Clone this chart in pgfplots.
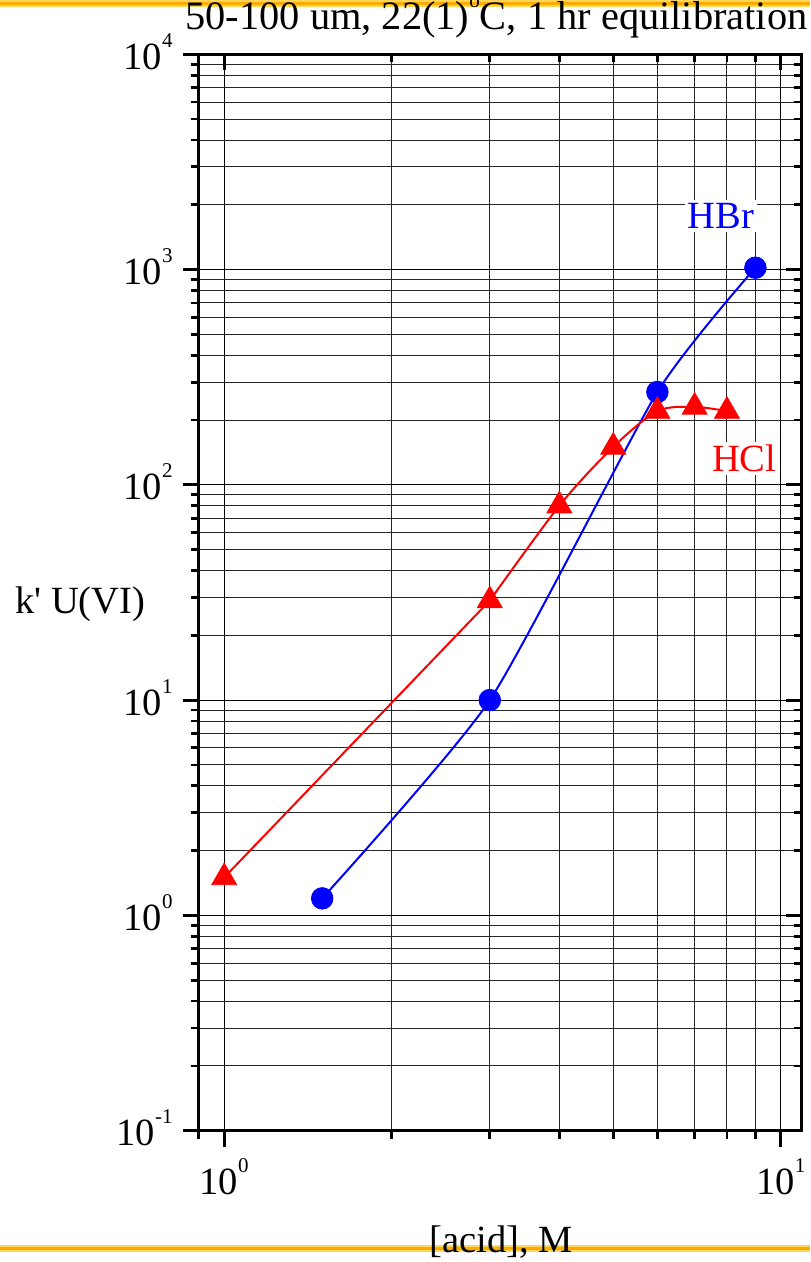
\documentclass[border=0pt]{standalone}
\usepackage{fontspec}
\setmainfont{Liberation Serif}
\newfontfamily\rawserif{Liberation Serif}
\usepackage{pgfplots}
\pgfplotsset{compat=1.18}
\newcommand{\sups}[1]{\raisebox{11pt}{\fontsize{10.5}{12}\selectfont #1}}
\definecolor{hbr}{rgb}{0,0,1}
\definecolor{hcl}{rgb}{1,0,0}
\definecolor{orgA}{RGB}{255,214,90}
\definecolor{orgB}{RGB}{250,172,0}
\begin{document}
\begin{tikzpicture}
\useasboundingbox (-99.35pt,-65.65pt) rectangle (305.65pt,565.35pt);
\draw[orgA, line width=3.6pt] (-99.35pt,563.6pt) -- (305.65pt,563.6pt);
\draw[orgB, line width=1.6pt] (-99.35pt,563.6pt) -- (305.65pt,563.6pt);
\draw[orgA, line width=3.6pt] (-99.35pt,-58.8pt) -- (305.65pt,-58.8pt);
\draw[orgB, line width=1.6pt] (-99.35pt,-58.8pt) -- (305.65pt,-58.8pt);
\begin{axis}[
  at={(0pt,0pt)}, anchor=south west,
  scale only axis, width=301.5pt, height=538.2pt,
  xmode=log, ymode=log, clip=false,
  xmin=0.9, xmax=10.9, ymin=0.1, ymax=10000,
  xtick={1,10},
  minor xtick={0.9,2,3,4,5,6,7,8,9},
  ytick={0.1,1,10,100,1000,10000},
  minor ytick={0.2,0.3,0.4,0.5,0.6,0.7,0.8,0.9,2,3,4,5,6,7,8,9,20,30,40,50,60,70,80,90,200,300,400,500,600,700,800,900,2000,3000,4000,5000,6000,7000,8000,9000},
  major tick length=8pt, minor tick length=4pt,
  tick style={black, line width=1.4pt},
  axis line style={black, line width=1.6pt},
  xtick pos=left, ytick pos=left, tick align=outside,
  grid=both,
  major grid style={black, line width=0.5pt},
  minor grid style={black!85, line width=0.45pt},
  xticklabels={}, yticklabels={},
  title={50-100 um, 22(1)\sups{o}C, 1 hr equilibration},
  title style={at={(axis description cs:0.5,1)}, anchor=base, inner sep=0pt, yshift=6.15pt, xshift=-1.85pt, font=\fontsize{20.2}{24}\selectfont},
  xlabel={[acid], M},
  xlabel style={at={(axis description cs:0.5,0)}, anchor=base, inner sep=0pt, yshift=-61.1pt, xshift=0.65pt, font=\fontsize{19.25}{23}\selectfont},
  ylabel={{\rawserif k'} U(VI)},
  ylabel style={at={(axis description cs:0,0)}, rotate=-90, anchor=base east, inner sep=0pt, xshift=-26.5pt, yshift=258.7pt, font=\fontsize{19.25}{23}\selectfont},
]
% HBr curve and points
\addplot[hbr, line width=1pt, smooth, tension=0.35, no marks]
  coordinates {(1.5,1.2) (3,10) (6,270) (9,1020)};
\addplot[hbr, only marks, mark=*, mark size=5.4pt, mark options={solid, fill=hbr, draw=hbr}]
  coordinates {(1.5,1.2) (3,10) (6,270) (9,1020)};
% HCl curve and points
\addplot[hcl, line width=1pt, no marks]
  coordinates {(1,1.5) (3,29)};
\addplot[hcl, line width=1pt, smooth, tension=0.5, no marks]
  coordinates {(3,29) (4,80) (5,150) (6,220) (7,230) (8,220)};
\addplot[hcl, only marks, mark=triangle*, mark size=7.2pt, mark options={solid, fill=hcl, draw=hcl}]
  coordinates {(1,1.5) (3,29) (4,80) (5,150) (6,220) (7,230) (8,220)};
\node[anchor=base, text=hbr, fill=white, inner sep=1.5pt, font=\fontsize{19.25}{23}\selectfont] at (axis cs:7.8,1550) {HBr};
\node[anchor=base, text=hcl, fill=white, inner sep=1.5pt, font=\fontsize{19.25}{23}\selectfont] at (axis cs:8.59,115) {HCl};
% tick labels
\node[anchor=base, inner sep=0pt, yshift=-32pt, font=\fontsize{19.25}{23}\selectfont] at (axis cs:1,0.1) {10\sups{0}};
\node[anchor=base, inner sep=0pt, yshift=-32pt, font=\fontsize{19.25}{23}\selectfont] at (axis cs:10,0.1) {10\sups{1}};
\node[anchor=base east, inner sep=0pt, xshift=-12.85pt, yshift=-7.5pt, font=\fontsize{19.25}{23}\selectfont] at (axis cs:0.9,0.1) {10\sups{-1}};
\node[anchor=base east, inner sep=0pt, xshift=-12.85pt, yshift=-7.5pt, font=\fontsize{19.25}{23}\selectfont] at (axis cs:0.9,1) {10\sups{0}};
\node[anchor=base east, inner sep=0pt, xshift=-12.85pt, yshift=-7.5pt, font=\fontsize{19.25}{23}\selectfont] at (axis cs:0.9,10) {10\sups{1}};
\node[anchor=base east, inner sep=0pt, xshift=-12.85pt, yshift=-7.5pt, font=\fontsize{19.25}{23}\selectfont] at (axis cs:0.9,100) {10\sups{2}};
\node[anchor=base east, inner sep=0pt, xshift=-12.85pt, yshift=-7.5pt, font=\fontsize{19.25}{23}\selectfont] at (axis cs:0.9,1000) {10\sups{3}};
\node[anchor=base east, inner sep=0pt, xshift=-12.85pt, yshift=-7.5pt, font=\fontsize{19.25}{23}\selectfont] at (axis cs:0.9,10000) {10\sups{4}};
\end{axis}
\begin{axis}[
  at={(0pt,0pt)}, anchor=south west,
  scale only axis, width=301.5pt, height=538.2pt,
  xmode=log, ymode=log,
  xmin=0.9, xmax=10.9, ymin=0.1, ymax=10000,
  xtick={1,10},
  minor xtick={0.9,2,3,4,5,6,7,8,9},
  ytick={0.1,1,10,100,1000,10000},
  minor ytick={0.2,0.3,0.4,0.5,0.6,0.7,0.8,0.9,2,3,4,5,6,7,8,9,20,30,40,50,60,70,80,90,200,300,400,500,600,700,800,900,2000,3000,4000,5000,6000,7000,8000,9000},
  major tick length=8pt, minor tick length=4pt,
  tick style={black, line width=1.4pt},
  axis line style={black, line width=1.6pt},
  xtick pos=right, ytick pos=right, tick align=inside,
  xticklabels={}, yticklabels={},
]
\end{axis}
\end{tikzpicture}
\end{document}
